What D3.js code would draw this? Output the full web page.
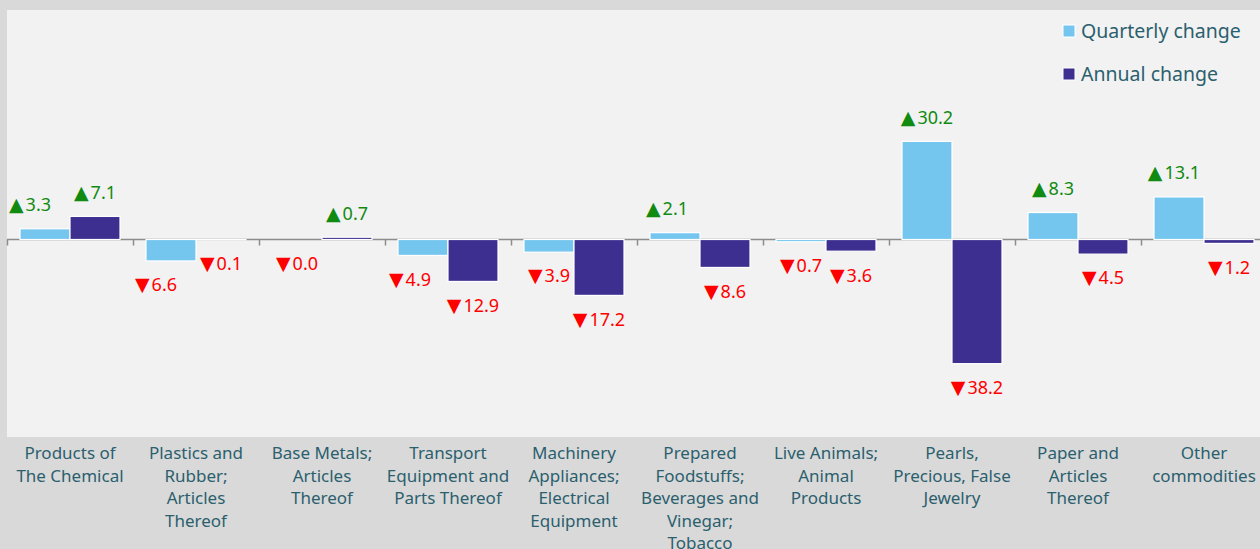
<!DOCTYPE html>
<html>
<head>
<meta charset="utf-8">
<script src="https://cdn.jsdelivr.net/npm/d3@7"></script>
<style>
  body { margin: 0; background: #d9d9d9; }
  svg { display: block; font-family: "Noto Sans", sans-serif; }
</style>
</head>
<body>
<div id="chart"></div>
<script>
// Chart data
const categories = [
  "Products of The Chemical",
  "Plastics and Rubber; Articles Thereof",
  "Base Metals; Articles Thereof",
  "Transport Equipment and Parts Thereof",
  "Machinery Appliances; Electrical Equipment",
  "Prepared Foodstuffs; Beverages and Vinegar; Tobacco",
  "Live Animals; Animal Products",
  "Pearls, Precious, False Jewelry",
  "Paper and Articles Thereof",
  "Other commodities"
];
// tick label lines as printed under each group
const tickLines = [
  ["Products of", "The Chemical"],
  ["Plastics and", "Rubber;", "Articles", "Thereof"],
  ["Base Metals;", "Articles", "Thereof"],
  ["Transport", "Equipment and", "Parts Thereof"],
  ["Machinery", "Appliances;", "Electrical", "Equipment"],
  ["Prepared", "Foodstuffs;", "Beverages and", "Vinegar;", "Tobacco"],
  ["Live Animals;", "Animal", "Products"],
  ["Pearls,", "Precious, False", "Jewelry"],
  ["Paper and", "Articles", "Thereof"],
  ["Other", "commodities"]
];
const quarterly = [3.3, -6.6, 0.0, -4.9, -3.9, 2.1, -0.7, 30.2, 8.3, 13.1];
const annual = [7.1, -0.1, 0.7, -12.9, -17.2, -8.6, -3.6, -38.2, -4.5, -1.2];
const seriesNames = ["Quarterly change", "Annual change"];

// small horizontal shifts of the quarterly labels (label layout, px)
const qLabelShift = [-15, -15, 0, -13, 0, -8, 0, 0, 0, -5];

const colors = {
  page: "#d9d9d9",
  panel: "#f2f2f2",
  quarterly: "#75c6ef",
  annual: "#3c2f8f",
  axis: "#8c8c8c",
  text: "#2b5f6e",
  up: "#118a11",
  down: "#ff0000"
};

const W = 1260, H = 549;
const panel = { x: 7, y: 10, right: 1260, bottom: 437 };

const svg = d3.select("#chart").append("svg")
    .attr("width", W)
    .attr("height", H);

svg.append("rect")
    .attr("x", panel.x).attr("y", panel.y)
    .attr("width", panel.right - panel.x)
    .attr("height", panel.bottom - panel.y)
    .attr("fill", colors.panel);

// Scales
const x = d3.scaleBand().domain(categories).range([7, 1267]);
const xs = d3.scaleBand().domain(seriesNames).range([0, x.bandwidth()]).paddingOuter(0.26);
const y = d3.scaleLinear().domain([-60, 70]).range([434.5, 12]);

const rows = categories.map((c, i) => ({
  cat: c,
  vals: [
    { s: seriesNames[0], v: quarterly[i], shift: qLabelShift[i] },
    { s: seriesNames[1], v: annual[i], shift: 0 }
  ]
}));

// Zero axis with ticks at group boundaries
const axis = svg.append("g");
axis.append("line")
    .attr("x1", panel.x).attr("x2", panel.right)
    .attr("y1", y(0)).attr("y2", y(0))
    .attr("stroke", colors.axis).attr("stroke-width", 1.5);
axis.selectAll(".tick")
    .data(categories)
  .enter().append("line")
    .attr("x1", d => x(d) + 0.5).attr("x2", d => x(d) + 0.5)
    .attr("y1", y(0)).attr("y2", y(0) + 6)
    .attr("stroke", colors.axis).attr("stroke-width", 1.5);

// Bars
const groups = svg.selectAll(".group")
    .data(rows)
  .enter().append("g")
    .attr("transform", d => `translate(${x(d.cat)},0)`);

groups.selectAll("rect")
    .data(d => d.vals)
  .enter().append("rect")
    .attr("x", d => xs(d.s))
    .attr("width", xs.bandwidth())
    .attr("y", d => Math.min(y(d.v), y(0)))
    .attr("height", d => Math.abs(y(d.v) - y(0)))
    .attr("fill", (d, i) => i === 0 ? colors.quarterly : colors.annual)
    .attr("stroke", "#ffffff")
    .attr("stroke-width", 1.2);

// Value labels: triangle marker + number
const lbl = groups.selectAll(".lbl")
    .data(d => d.vals)
  .enter().append("text")
    .attr("class", "lbl")
    .attr("x", d => xs(d.s) + xs.bandwidth() / 2 + d.shift)
    .attr("y", d => d.v > 0 ? y(d.v) - 24 : y(d.v) + 24)
    .attr("dy", "0.35em")
    .attr("text-anchor", "middle")
    .attr("font-size", 18)
    .attr("fill", d => d.v > 0 ? colors.up : colors.down);
lbl.append("tspan")
    .attr("font-family", "DejaVu Sans")
    .attr("font-size", 19)
    .text(d => d.v > 0 ? "▲" : "▼");
lbl.append("tspan")
    .attr("dx", 2)
    .text(d => Math.abs(d.v).toFixed(1));

// Category labels
const catLabels = svg.selectAll(".cat")
    .data(categories)
  .enter().append("text")
    .attr("text-anchor", "middle")
    .attr("font-size", 17)
    .attr("fill", colors.text)
    .attr("x", d => x(d) + x.bandwidth() / 2)
    .attr("y", 459);
catLabels.selectAll("tspan")
    .data((d, i) => tickLines[i])
  .enter().append("tspan")
    .attr("x", function() { return this.parentNode.getAttribute("x"); })
    .attr("dy", (d, i) => i === 0 ? 0 : 22.5)
    .text(d => d);

// Legend
const legend = svg.selectAll(".legend")
    .data(seriesNames)
  .enter().append("g")
    .attr("transform", (d, i) => `translate(1063,${25 + i * 43})`);
legend.append("rect")
    .attr("width", 12).attr("height", 12)
    .attr("fill", (d, i) => i === 0 ? colors.quarterly : colors.annual)
    .attr("stroke", "#ffffff").attr("stroke-width", 1);
legend.append("text")
    .attr("x", 18).attr("y", 6)
    .attr("dy", "0.35em")
    .attr("font-size", 19.5)
    .attr("fill", colors.text)
    .text(d => d);
</script>
</body>
</html>
